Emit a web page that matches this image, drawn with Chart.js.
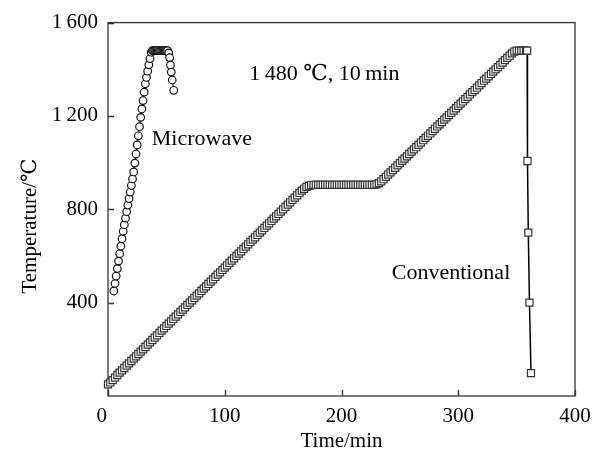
<!DOCTYPE html>
<html>
<head>
<meta charset="utf-8">
<script src="https://cdn.jsdelivr.net/npm/chart.js@4"></script>
<style>
  html, body { margin: 0; padding: 0; background: #fff; }
  canvas { display: block; }
</style>
</head>
<body>
<canvas id="myChart" width="601" height="456"></canvas>
<script>
// values
const xTicks = [0, 100, 200, 300, 400];
const yTicks = [400, 800, 1200, 1600];

// microwave sintering (circles)
const microTime = [
  5, 6, 7, 8, 9, 10, 11, 12, 13, 14,
  15, 16, 17, 18, 19, 20, 21, 22, 23, 24,
  25, 26, 27, 28, 29, 30, 31, 32, 33, 34,
  35, 36, 37, 38, 39, 40, 41, 42, 43, 44,
  45, 46, 47, 48, 49, 50, 51, 52, 52.8, 53.5,
  54.2, 55, 56.3
];
const microTemp = [
  450, 482, 514, 546, 578, 610, 642, 674, 706, 734,
  762, 790, 818, 846, 874, 902, 930, 960, 998, 1037,
  1076, 1115, 1154, 1194, 1230, 1266, 1302, 1338, 1365, 1392,
  1419, 1446, 1473, 1480, 1480, 1480, 1480, 1480, 1480, 1480,
  1480, 1480, 1480, 1480, 1480, 1480, 1480, 1470, 1450, 1418,
  1388, 1354, 1310
];

// conventional sintering (squares)
const convTime = [
  0, 2, 4, 6, 8, 10, 12, 14, 16, 18,
  20, 22, 24, 26, 28, 30, 32, 34, 36, 38,
  40, 42, 44, 46, 48, 50, 52, 54, 56, 58,
  60, 62, 64, 66, 68, 70, 72, 74, 76, 78,
  80, 82, 84, 86, 88, 90, 92, 94, 96, 98,
  100, 102, 104, 106, 108, 110, 112, 114, 116, 118,
  120, 122, 124, 126, 128, 130, 132, 134, 136, 138,
  140, 142, 144, 146, 148, 150, 152, 154, 156, 158,
  160, 162, 164, 166, 168, 170, 172, 174, 176, 178,
  180, 182, 184, 186, 188, 190, 192, 194, 196, 198,
  200, 202, 204, 206, 208, 210, 212, 214, 216, 218,
  220, 222, 224, 226, 228, 230, 232, 234, 236, 238,
  240, 242, 244, 246, 248, 250, 252, 254, 256, 258,
  260, 262, 264, 266, 268, 270, 272, 274, 276, 278,
  280, 282, 284, 286, 288, 290, 292, 294, 296, 298,
  300, 302, 304, 306, 308, 310, 312, 314, 316, 318,
  320, 322, 324, 326, 328, 330, 332, 334, 336, 338,
  340, 342, 344, 346, 348, 350, 352, 354, 356, 358,
  359, 359.3, 360, 361, 362.3
];
const convTemp = [
  50, 58, 68, 79, 90, 100, 110, 120, 130, 140,
  150, 160, 170, 180, 190, 200, 210, 220, 230, 240,
  250, 260, 270, 280, 290, 300, 310, 320, 330, 340,
  350, 360, 370, 380, 390, 400, 410, 420, 430, 440,
  450, 460, 470, 480, 490, 500, 510, 520, 530, 540,
  550, 560, 570, 580, 590, 600, 610, 620, 630, 640,
  650, 660, 670, 680, 690, 700, 710, 720, 730, 740,
  750, 760, 770, 780, 790, 800, 810, 820, 830, 840,
  850, 860, 870, 880, 888, 896, 901, 904, 905, 905,
  905, 905, 905, 905, 905, 905, 905, 905, 905, 905,
  905, 905, 905, 905, 905, 905, 905, 905, 905, 905,
  905, 905, 905, 905, 905, 907, 912, 920, 929, 939,
  949, 958, 968, 978, 988, 998, 1008, 1017, 1027, 1037,
  1047, 1057, 1066, 1076, 1086, 1096, 1106, 1115, 1125, 1135,
  1145, 1155, 1164, 1174, 1184, 1194, 1204, 1213, 1223, 1233,
  1243, 1253, 1262, 1272, 1282, 1292, 1302, 1311, 1321, 1331,
  1341, 1351, 1360, 1370, 1380, 1390, 1400, 1409, 1419, 1429,
  1439, 1449, 1458, 1468, 1476, 1480, 1480, 1480, 1480, 1480,
  1480, 1007, 700, 400, 98
];

const notes = [
  { text: "1\u2009480 \u2103, 10\u2009min", t: 121, T: 1378 },
  { text: "Microwave", t: 37.5, T: 1100 },
  { text: "Conventional", t: 243, T: 528 }
];

const FONT = "'Liberation Serif', 'DejaVu Serif', 'Times New Roman', serif";

function toPoints(xs, ys) {
  return xs.map((x, i) => ({ x: x, y: ys[i] }));
}

// frame, inward ticks, axis titles and the notes
const framePlugin = {
  id: "frame",
  beforeDatasetsDraw(chart) {
    const { ctx, chartArea: a, scales } = chart;
    ctx.save();
    ctx.strokeStyle = "#333";
    ctx.lineWidth = 1.3;
    ctx.strokeRect(a.left, a.top, a.right - a.left, a.bottom - a.top);
    ctx.beginPath();
    xTicks.forEach(v => {
      const px = Math.round(scales.x.getPixelForValue(v)) + 0.5;
      ctx.moveTo(px, a.bottom);
      ctx.lineTo(px, a.bottom - 6);
    });
    yTicks.forEach(v => {
      const py = Math.round(scales.y.getPixelForValue(v)) + 0.5;
      ctx.moveTo(a.left, py);
      ctx.lineTo(a.left + 6, py);
    });
    ctx.stroke();
    ctx.restore();
  },
  afterDraw(chart) {
    const { ctx, chartArea: a, scales } = chart;
    ctx.save();
    ctx.fillStyle = "#000";
    ctx.font = "21px " + FONT;
    ctx.textBaseline = "middle";
    ctx.textAlign = "center";
    ctx.fillText("Time/min", (a.left + a.right) / 2, 441);
    ctx.save();
    ctx.translate(30, 226);
    ctx.rotate(-Math.PI / 2);
    ctx.fillText("Temperature/\u2103", 0, 0);
    ctx.restore();
    ctx.textAlign = "left";
    ctx.font = "22px " + FONT;
    notes.forEach(n => {
      ctx.fillText(n.text, scales.x.getPixelForValue(n.t), scales.y.getPixelForValue(n.T));
    });
    ctx.restore();
  }
};

const ctx = document.getElementById("myChart").getContext("2d");

new Chart(ctx, {
  type: "scatter",
  data: {
    datasets: [
      {
        label: "Conventional",
        data: toPoints(convTime, convTemp),
        showLine: true,
        borderColor: "#000",
        borderWidth: 1.5,
        pointStyle: "rect",
        pointRadius: 5,
        pointBorderWidth: 1.2,
        pointBorderColor: "#333",
        pointBackgroundColor: "#fff",
        clip: false
      },
      {
        label: "Microwave",
        data: toPoints(microTime, microTemp),
        showLine: true,
        borderColor: "#000",
        borderWidth: 1,
        pointStyle: "circle",
        pointRadius: 3.8,
        pointBorderWidth: 1.2,
        pointBorderColor: "#111",
        pointBackgroundColor: "#fff",
        clip: false
      }
    ]
  },
  options: {
    responsive: false,
    animation: false,
    devicePixelRatio: 1,
    layout: { padding: { top: 20, right: 26, left: 0, bottom: 0 } },
    plugins: {
      legend: { display: false },
      tooltip: { enabled: false }
    },
    scales: {
      x: {
        type: "linear",
        min: 0,
        max: 400,
        afterFit: s => { s.height = 60; },
        afterBuildTicks: s => { s.ticks = xTicks.map(v => ({ value: v })); },
        grid: { display: false, drawTicks: false },
        border: { display: false },
        ticks: {
          padding: 8,
          color: "#000",
          font: { family: FONT, size: 21 },
          maxRotation: 0,
          // the 0 sits a little left of the corner in the original
          callback: v => v === 0 ? "0\u2009\u2009\u2009" : String(v)
        }
      },
      y: {
        type: "linear",
        min: 0,
        max: 1600,
        afterFit: s => { s.width = 108; },
        afterBuildTicks: s => { s.ticks = yTicks.map(v => ({ value: v })); },
        grid: { display: false, drawTicks: false },
        border: { display: false },
        ticks: {
          padding: 10,
          color: "#000",
          font: { family: FONT, size: 21 },
          callback: v => v >= 1000 ? String(v).replace(/^(\d)/, "$1\u2009") : String(v)
        }
      }
    }
  },
  plugins: [framePlugin]
});
</script>
</body>
</html>
